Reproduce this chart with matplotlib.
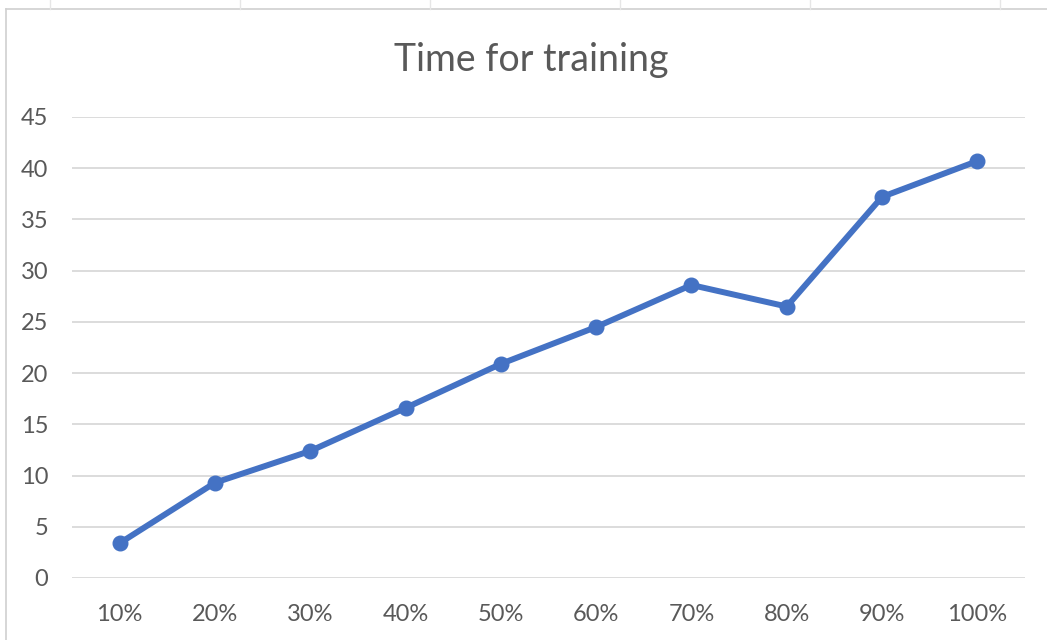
import matplotlib
matplotlib.use("Agg")
import matplotlib.pyplot as plt
from matplotlib.lines import Line2D

categories = ["10%", "20%", "30%", "40%", "50%", "60%", "70%", "80%", "90%", "100%"]
times = [3.4, 9.3, 12.4, 16.6, 20.9, 24.5, 28.6, 26.5, 37.2, 40.7]
yticks = [0, 5, 10, 15, 20, 25, 30, 35, 40, 45]

plt.rcParams['font.family'] = ['Lato', 'DejaVu Sans']
W, H = 1047, 640
fig = plt.figure(figsize=(W / 100, H / 100), dpi=100)
ax = fig.add_axes([72 / W, 1 - 578 / H, (1025 - 72) / W, (578 - 117) / H])

x = list(range(len(categories)))
ax.plot(x, times, color="#4472C4", linewidth=4.3, marker="o", markersize=10.5,
        solid_capstyle="round", solid_joinstyle="round", zorder=3)

ax.set_xlim(-0.5, len(categories) - 0.5)
ax.set_ylim(0, 45)
ax.set_yticks(yticks)
ax.set_xticks(x)
ax.set_xticklabels(categories)
ax.grid(axis="y", color="#D9D9D9", linewidth=1.3)
ax.set_axisbelow(True)
for s in ax.spines.values():
    s.set_visible(False)
ax.tick_params(axis="both", length=0, colors="#595959", labelsize=17)
ax.tick_params(axis="y", pad=17)
ax.tick_params(axis="x", pad=19)

fig.text(531 / W, 1 - 60 / H, "Time for training", ha="center", va="center",
         fontsize=27, color="#595959")

# chart frame (top and left edges) and sheet column marks
fig.add_artist(Line2D([6 / W, 1], [1 - 9 / H, 1 - 9 / H], color="#D0D0D0", linewidth=1.2))
fig.add_artist(Line2D([6 / W, 6 / W], [0, 1 - 9 / H], color="#D0D0D0", linewidth=1.2))
for cx in [50, 240, 430, 620, 810, 1000]:
    fig.add_artist(Line2D([cx / W, cx / W], [1 - 9 / H, 1], color="#E6E6E6", linewidth=1))

fig.savefig("out.png", dpi=100)
